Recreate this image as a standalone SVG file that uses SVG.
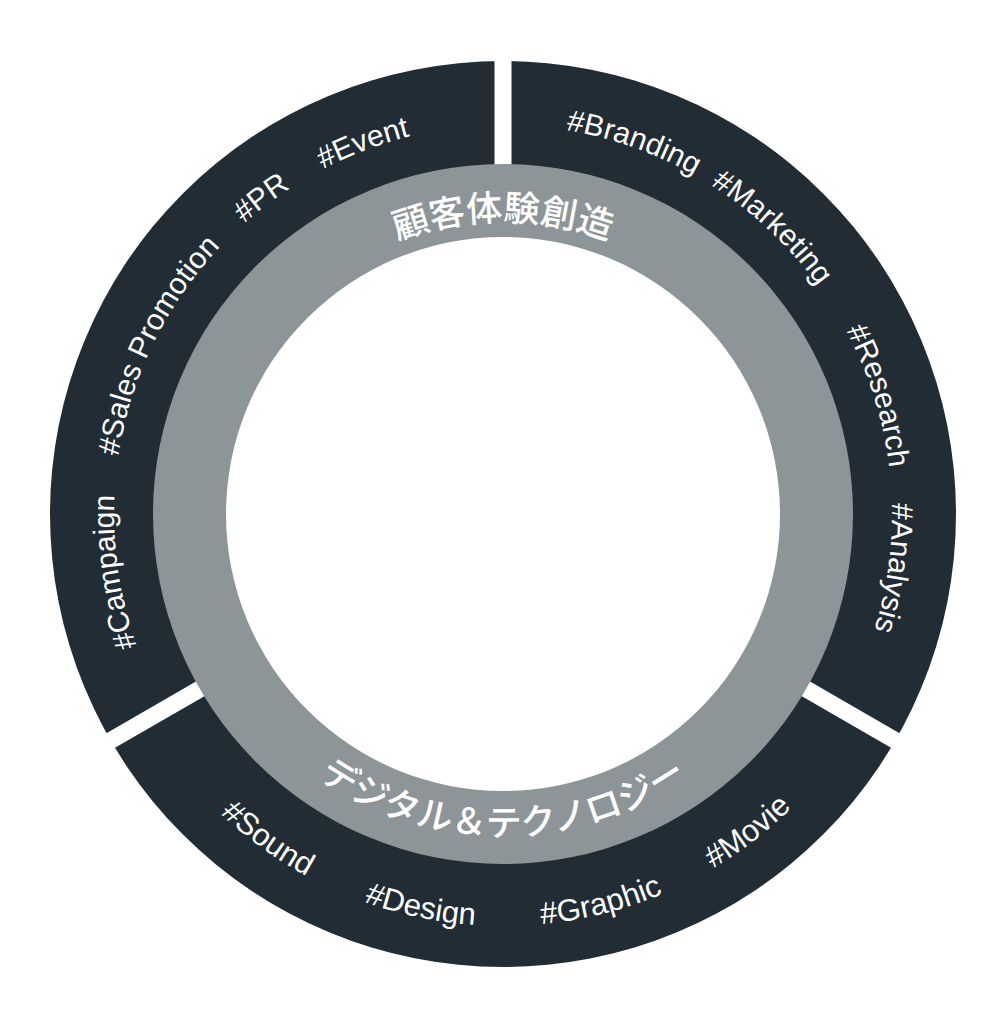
<svg xmlns="http://www.w3.org/2000/svg" width="1000" height="1028" viewBox="0 0 1000 1028">
  <defs>
    <path id="p-out-cw" d="M 503 903 A 389 389 0 1 1 503 125 A 389 389 0 1 1 503 903"/>
    <path id="p-out-ccw" d="M 503 102 A 412 412 0 1 0 503 926 A 412 412 0 1 0 503 102"/>
    <path id="p-in-cw" d="M 503 807 A 293 293 0 1 1 503 221 A 293 293 0 1 1 503 807"/>
    <path id="p-in-ccw" d="M 503 192 A 322 322 0 1 0 503 836 A 322 322 0 1 0 503 192"/>
    <style>
      .dark { fill: #212c35; }
      .gray { fill: #8e9598; }
      .gap { fill: #ffffff; }
      .tag { fill: #ffffff; font-family: "Liberation Sans", Arial, sans-serif; font-size: 30px; }
      .tag-b { font-size: 31px; }
      .jp { fill: #ffffff; font-family: "Noto Sans CJK JP", "Noto Sans", sans-serif; font-size: 36px; font-weight: 500; }
    </style>
  </defs>
  <rect width="1000" height="1028" fill="#ffffff"/>
  <g id="outer-ring">
    <circle class="dark" cx="503" cy="514" r="453"/>
    <rect class="gap" x="494.5" y="40" width="17" height="474"/>
    <rect class="gap" x="494.5" y="40" width="17" height="474" transform="rotate(120 503 514)"/>
    <rect class="gap" x="494.5" y="40" width="17" height="474" transform="rotate(240 503 514)"/>
  </g>
  <g id="inner-ring">
    <circle class="gray" cx="503" cy="514" r="350"/>
    <circle fill="#ffffff" cx="503" cy="514" r="277"/>
  </g>
  <g id="segment-left">
    <text class="tag" text-anchor="middle"><textPath href="#p-out-cw" startOffset="22.64%">#Campaign</textPath></text>
    <text class="tag" text-anchor="middle"><textPath href="#p-out-cw" startOffset="32.22%">#Sales Promotion</textPath></text>
    <text class="tag" text-anchor="middle"><textPath href="#p-out-cw" startOffset="39.61%">#PR</textPath></text>
    <text class="tag" text-anchor="middle"><textPath href="#p-out-cw" startOffset="44.25%">#Event</textPath></text>
  </g>
  <g id="segment-right">
    <text class="tag" text-anchor="middle"><textPath href="#p-out-cw" startOffset="55.39%">#Branding</textPath></text>
    <text class="tag" text-anchor="middle"><textPath href="#p-out-cw" startOffset="62.0%">#Marketing</textPath></text>
    <text class="tag" text-anchor="middle"><textPath href="#p-out-cw" startOffset="70.14%">#Research</textPath></text>
    <text class="tag" text-anchor="middle"><textPath href="#p-out-cw" startOffset="77.19%">#Analysis</textPath></text>
  </g>
  <g id="segment-bottom">
    <text class="tag tag-b" text-anchor="middle"><textPath href="#p-out-ccw" startOffset="40.03%">#Sound</textPath></text>
    <text class="tag tag-b" text-anchor="middle"><textPath href="#p-out-ccw" startOffset="46.72%">#Design</textPath></text>
    <text class="tag tag-b" text-anchor="middle"><textPath href="#p-out-ccw" startOffset="53.92%">#Graphic</textPath></text>
    <text class="tag tag-b" text-anchor="middle"><textPath href="#p-out-ccw" startOffset="60.44%">#Movie</textPath></text>
  </g>
  <g id="label-top">
    <text class="jp" text-anchor="middle"><textPath href="#p-in-cw" startOffset="50%">顧客体験創造</textPath></text>
  </g>
  <g id="label-bottom">
    <text class="jp" text-anchor="middle"><textPath href="#p-in-ccw" startOffset="50%">デジタル＆テクノロジー</textPath></text>
  </g>
</svg>
